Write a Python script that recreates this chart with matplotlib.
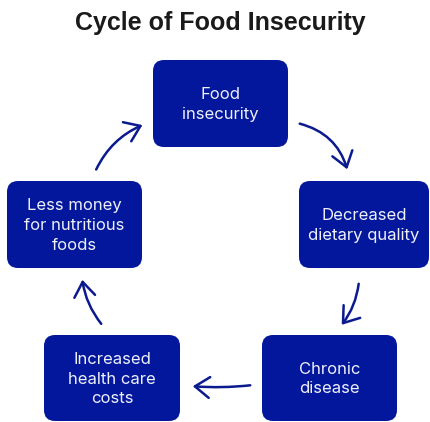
import matplotlib
matplotlib.use("Agg")
import matplotlib.pyplot as plt
from matplotlib.patches import FancyBboxPatch, FancyArrowPatch

# ---- content ----
title = "Cycle of Food Insecurity"
stages = ["Food\ninsecurity", "Decreased\ndietary quality", "Chronic\ndisease",
          "Increased\nhealth care\ncosts", "Less money\nfor nutritious\nfoods"]

# ---- layout (pixel coordinates, y downward) ----
box_x0 = [153, 299, 262, 44, 7]
box_x1 = [288, 429, 397, 180, 142]
box_y0 = [60, 181, 335, 335, 181]
box_y1 = [147, 268, 421, 421, 268]
arrow_start = [(297, 123), (359, 281), (253, 385), (103, 326), (95, 172)]
arrow_end = [(348, 172), (340, 327), (190, 386), (82, 277), (145, 124)]
arrow_rad = [-0.3, -0.15, -0.05, -0.15, -0.2]

BOX = "#03179C"
ARROW = "#0B1A8E"

W, H = 430, 422
fig = plt.figure(figsize=(W / 100, H / 100), dpi=100)
ax = fig.add_axes([0, 0, 1, 1])
ax.set_xlim(0, W)
ax.set_ylim(H, 0)
ax.axis("off")

ax.text(220, 23, title, ha="center", va="center", fontsize=18, fontweight="heavy",
        family=["Liberation Sans Narrow", "Liberation Sans", "DejaVu Sans"], color="#1a1a1a")

for lab, x0, x1, y0, y1 in zip(stages, box_x0, box_x1, box_y0, box_y1):
    pad = 11
    p = FancyBboxPatch((x0 + pad, y0 + pad), (x1 - x0) - 2 * pad, (y1 - y0) - 2 * pad,
                       boxstyle=f"round,pad={pad},rounding_size=11",
                       facecolor=BOX, edgecolor="none")
    ax.add_patch(p)
    ax.text((x0 + x1) / 2, (y0 + y1) / 2 + 1, lab, ha="center", va="center",
            fontsize=12, color="#EEF0FA", family=["Inter", "DejaVu Sans"],
            linespacing=1.4)

for s, e, r in zip(arrow_start, arrow_end, arrow_rad):
    a = FancyArrowPatch(s, e, connectionstyle=f"arc3,rad={r}",
                        arrowstyle="->,head_length=7,head_width=5",
                        color=ARROW, lw=1.8, mutation_scale=1.5)
    ax.add_patch(a)

fig.savefig("out.png", dpi=100)
